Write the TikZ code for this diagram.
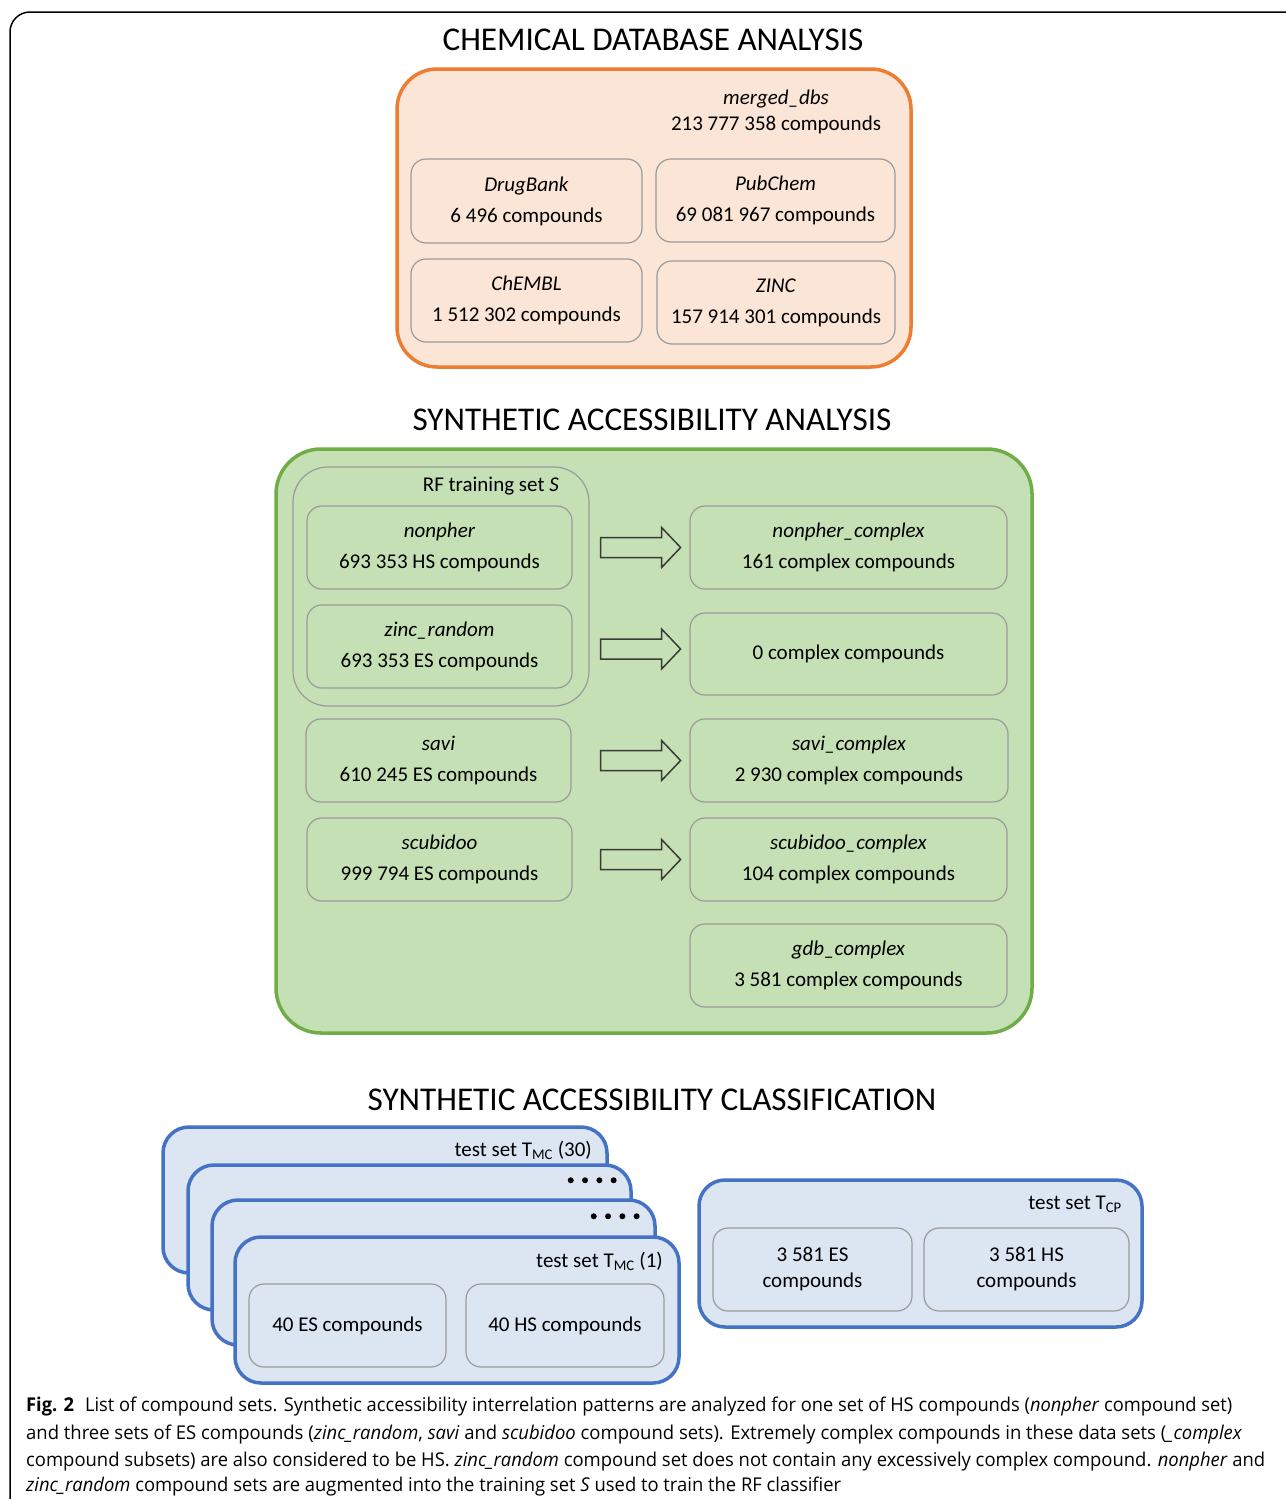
\documentclass[tikz,border=0pt]{standalone}
\usepackage{fontspec}
\setmainfont{Carlito}
\newfontfamily\capfont{Open Sans}
\usetikzlibrary{calc}
\definecolor{orangeline}{HTML}{ED7D31}
\definecolor{orangefill}{HTML}{FBE5D6}
\definecolor{greenline}{HTML}{70AD47}
\definecolor{greenfill}{HTML}{C5E0B4}
\definecolor{blueline}{HTML}{4472C4}
\definecolor{bluefill}{HTML}{DCE6F3}
\definecolor{graybox}{HTML}{9A9A9A}
\definecolor{arrowgray}{HTML}{3A3A3A}
\newcommand\capline[2]{\resizebox{#1}{\height}{#2}}
\tikzset{
  titletext/.style={font=\fontsize{33.2}{38}\selectfont, inner sep=0},
  bigbox/.style={line width=3.5, inner sep=0},
  obox/.style={bigbox, draw=orangeline, fill=orangefill, rounded corners=40},
  gbox/.style={bigbox, draw=greenline, fill=greenfill, rounded corners=45},
  bbox/.style={bigbox, draw=blueline, fill=bluefill, rounded corners=26},
  ibox/.style={draw=graybox, line width=1.2, rounded corners=15, align=center,
    font=\fontsize{21}{31}\selectfont, inner sep=0},
  lbl/.style={font=\fontsize{21}{26}\selectfont, inner sep=0, align=center},
  captext/.style={font=\capfont\fontsize{19}{24}\selectfont, inner sep=0, anchor=base west},
  arrowline/.style={draw=arrowgray, line width=1.5},
  barrow/.pic={\draw[arrowline] (0,-10) -- (61,-10) -- (61,-20) -- (80,0) -- (61,20) -- (61,10) -- (0,10) -- cycle;}
}
\begin{document}
\begin{tikzpicture}[x=1pt,y=-1pt]
\useasboundingbox (0,0) rectangle (1285,1499);
\fill[white] (0,0) rectangle (1285,1499);
% outer frame
\draw[line width=1.5, rounded corners=20] (10,1520) -- (10,12) -- (1300,12);

% ---------- Chemical database analysis
\node[titletext] (t1) at (653,40) {CHEMICAL DATABASE ANALYSIS};
\node[obox, minimum width=514, minimum height=298] (dbs) at (654,218) {};
\node[lbl] (merged) at (776,112) {\textit{merged\_dbs}\\213 777 358 compounds};
\node[ibox, minimum width=231, minimum height=84] (drugbank) at (526.5,201) {\textit{DrugBank}\\6 496 compounds};
\node[ibox, minimum width=239, minimum height=83] (pubchem) at (775.5,200.5) {\textit{PubChem}\\69 081 967 compounds};
\node[ibox, minimum width=231, minimum height=83] (chembl) at (526.5,300.5) {\textit{ChEMBL}\\1 512 302 compounds};
\node[ibox, minimum width=238, minimum height=83] (zinc) at (776,302.5) {\textit{ZINC}\\157 914 301 compounds};

% ---------- Synthetic accessibility analysis
\node[titletext] (t2) at (652,420) {SYNTHETIC ACCESSIBILITY ANALYSIS};
\node[gbox, minimum width=756, minimum height=584] (sa) at (654,741) {};
\node[draw=graybox, line width=1.2, rounded corners=35, minimum width=296, minimum height=239, inner sep=0] (rfset) at (441,586.5) {};
\node[lbl, anchor=east] (rflabel) at (559,486) {RF training set \textit{S}};
\node[ibox, minimum width=265, minimum height=83] (nonpher) at (439.5,547.5) {\textit{nonpher}\\693 353 HS compounds};
\node[ibox, minimum width=265, minimum height=83] (zincrandom) at (439.5,646.5) {\textit{zinc\_random}\\693 353 ES compounds};
\node[ibox, minimum width=265, minimum height=83] (savi) at (438.5,760.5) {\textit{savi}\\610 245 ES compounds};
\node[ibox, minimum width=265, minimum height=83] (scubidoo) at (439.5,859.5) {\textit{scubidoo}\\999 794 ES compounds};
\node[ibox, minimum width=317, minimum height=83] (npc) at (848.5,547.5) {\textit{nonpher\_complex}\\161 complex compounds};
\node[ibox, minimum width=317, minimum height=82] (zrc) at (848.5,654) {0 complex compounds};
\node[ibox, minimum width=318, minimum height=83] (sc) at (849,760.5) {\textit{savi\_complex}\\2 930 complex compounds};
\node[ibox, minimum width=317, minimum height=83] (scc) at (848.5,859.5) {\textit{scubidoo\_complex}\\104 complex compounds};
\node[ibox, minimum width=317, minimum height=83] (gdb) at (848.5,965.5) {\textit{gdb\_complex}\\3 581 complex compounds};
\pic at ($(nonpher.east)+(28,0)$) {barrow};
\pic at ($(zincrandom.east)+(28,2.5)$) {barrow};
\pic at ($(savi.east)+(29,0)$) {barrow};
\pic at ($(scubidoo.east)+(28,0)$) {barrow};

% ---------- Synthetic accessibility classification
\node[titletext] (t3) at (652,1100) {SYNTHETIC ACCESSIBILITY CLASSIFICATION};
\node[bbox, minimum width=444, minimum height=146] (b30) at (385,1200) {};
\node[lbl, anchor=east] (b30lbl) at (592,1150) {test set T\textsubscript{MC} (30)};
\node[bbox, minimum width=443, minimum height=145] (b2) at (409.5,1237.5) {};
\foreach \i in {0,1,2,3} \fill ($(b2.north east)+(-62+\i*14.3,17)$) circle (3);
\node[bbox, minimum width=443, minimum height=145] (b3) at (433.5,1272.5) {};
\foreach \i in {0,1,2,3} \fill ($(b3.north east)+(-63+\i*14.3,18)$) circle (3);
\node[bbox, minimum width=444, minimum height=146] (b1) at (457,1310) {};
\node[lbl, anchor=east] (b1lbl) at (663,1261) {test set T\textsubscript{MC} (1)};
\node[ibox, minimum width=197, minimum height=83] (es40) at (347.5,1325.5) {40 ES compounds};
\node[ibox, minimum width=198, minimum height=83] (hs40) at (565,1325.5) {40 HS compounds};

\node[bbox, minimum width=443, minimum height=147] (tcp) at (920.5,1253.5) {};
\node[lbl, anchor=east] (tcplbl) at (1122,1204) {test set T\textsubscript{CP}};
\node[ibox, minimum width=199, minimum height=83, font=\fontsize{21}{26}\selectfont] (es3581) at (812.5,1269.5) {3 581 ES\\compounds};
\node[ibox, minimum width=205, minimum height=83, font=\fontsize{21}{26}\selectfont] (hs3581) at (1026.5,1269.5) {3 581 HS\\compounds};

% ---------- caption
\node[captext] (cap1) at (26,1411) {\capline{1206pt}{\textbf{Fig. 2}\hspace{0.6em}List of compound sets. Synthetic accessibility interrelation patterns are analyzed for one set of HS compounds (\textit{nonpher} compound set)}};
\node[captext] (cap2) at (26,1439) {\capline{1216pt}{and three sets of ES compounds (\textit{zinc\_random}, \textit{savi} and \textit{scubidoo} compound sets). Extremely complex compounds in these data sets (\textit{\_complex}}};
\node[captext] (cap3) at (26,1466) {\capline{1239pt}{compound subsets) are also considered to be HS. \textit{zinc\_random} compound set does not contain any excessively complex compound. \textit{nonpher} and}};
\node[captext] (cap4) at (26,1491) {\capline{815pt}{\textit{zinc\_random} compound sets are augmented into the training set \textit{S} used to train the RF classifier}};
\end{tikzpicture}
\end{document}
